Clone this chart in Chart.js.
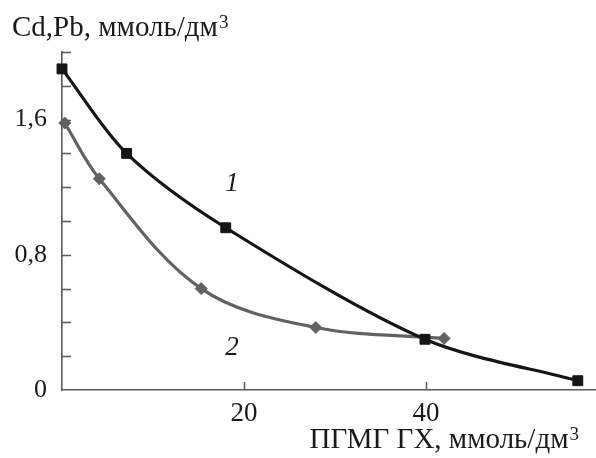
<!DOCTYPE html>
<html>

<head>
    <meta charset="UTF-8">
    <title>Cd, Pb vs PGMG GKh</title>
    <style>
        html, body {
            margin: 0;
            padding: 0;
            background: #ffffff;
        }

        #wrap {
            width: 596px;
            height: 458px;
        }
    </style>
</head>

<body>
    <div id="wrap">
        <canvas id="chart" width="596" height="458"></canvas>
    </div>
    <script src="https://cdn.jsdelivr.net/npm/chart.js"></script>

    <script>
        // curve 1 (black squares)
        const xCurve1 = [0, 7.1, 18, 39.9, 56.7];
        const yCurve1 = [1.9, 1.4, 0.96, 0.3, 0.055];
        // curve 2 (grey diamonds)
        const xCurve2 = [0.3, 4.1, 15.3, 27.9, 42];
        const yCurve2 = [1.58, 1.25, 0.6, 0.37, 0.305];

        const yTickValues = [0, 0.8, 1.6];
        const yTickLabels = ["0", "0,8", "1,6"];
        const xTickValues = [20, 40];
        const xTickLabels = ["20", "40"];

        const yTitle = "Cd,Pb, ммоль/дм";
        const xTitle = "ПГМГ ГХ, ммоль/дм";
        const unitPower = "3";
        const curveNames = ["1", "2"];
        const curveNamePos = [[18.7, 1.22], [18.7, 0.25]];

        const FONT = "'Liberation Serif', 'DejaVu Serif', serif";
        const axisColor = "#5a5a5a";
        const textColor = "#1a1a1a";

        const toPoints = (xs, ys) => xs.map((x, i) => ({ x: x, y: ys[i] }));

        function drawWithPower(ctx, text, x, y, align) {
            ctx.font = `29px ${FONT}`;
            const mainW = ctx.measureText(text).width;
            ctx.font = `19px ${FONT}`;
            const supW = ctx.measureText(unitPower).width;
            const left = align === "right" ? x - mainW - supW - 1 : x;
            ctx.textAlign = "left";
            ctx.textBaseline = "alphabetic";
            ctx.font = `29px ${FONT}`;
            ctx.fillText(text, left, y);
            ctx.font = `19px ${FONT}`;
            ctx.fillText(unitPower, left + mainW + 1, y - 8);
        }

        const decorations = {
            id: "decorations",
            afterDraw(chart) {
                const ctx = chart.ctx;
                const xs = chart.scales.x;
                const ys = chart.scales.y;
                ctx.save();
                // inward tick marks
                ctx.strokeStyle = axisColor;
                ctx.lineWidth = 1.5;
                ctx.beginPath();
                for (let v = 0.2; v <= 2.001; v += 0.2) {
                    const py = Math.round(ys.getPixelForValue(v)) + 0.5;
                    ctx.moveTo(xs.left, py);
                    ctx.lineTo(xs.left + 9, py);
                }
                xTickValues.forEach((v) => {
                    const px = Math.round(xs.getPixelForValue(v)) + 0.5;
                    ctx.moveTo(px, ys.bottom);
                    ctx.lineTo(px, ys.bottom - 8);
                });
                ctx.stroke();

                ctx.fillStyle = textColor;
                // axis titles
                drawWithPower(ctx, yTitle, 12, 36, "left");
                drawWithPower(ctx, xTitle, 579, 448, "right");

                // curve numbers
                ctx.font = `italic 27px ${FONT}`;
                ctx.textAlign = "center";
                ctx.textBaseline = "middle";
                curveNames.forEach((n, i) => {
                    ctx.fillText(n, xs.getPixelForValue(curveNamePos[i][0]), ys.getPixelForValue(curveNamePos[i][1]));
                });
                ctx.restore();
            }
        };

        new Chart(document.getElementById("chart"), {
            type: "line",
            data: {
                datasets: [
                    {
                        label: "1",
                        data: toPoints(xCurve1, yCurve1),
                        borderColor: "#151515",
                        backgroundColor: "#151515",
                        borderWidth: 3.2,
                        pointStyle: "rect",
                        pointRadius: 7,
                        pointBorderWidth: 1,
                        tension: 0.3,
                        clip: false
                    },
                    {
                        label: "2",
                        data: toPoints(xCurve2, yCurve2),
                        borderColor: "#626262",
                        backgroundColor: "#626262",
                        borderWidth: 3.2,
                        pointStyle: "rectRot",
                        pointRadius: 6,
                        pointBorderWidth: 1,
                        tension: 0.35,
                        clip: false
                    }
                ]
            },
            options: {
                responsive: false,
                animation: false,
                layout: {
                    autoPadding: false,
                    padding: { top: 52, right: 0, left: 0, bottom: 0 }
                },
                plugins: {
                    legend: { display: false },
                    tooltip: { enabled: false }
                },
                scales: {
                    x: {
                        type: "linear",
                        min: 0,
                        max: 58.7,
                        afterFit: (scale) => {
                            scale.height = 68;
                            scale.paddingLeft = 0;
                            scale.paddingRight = 0;
                        },
                        afterBuildTicks: (scale) => {
                            scale.ticks = xTickValues.map((v) => ({ value: v }));
                        },
                        grid: { display: true, drawOnChartArea: false, drawTicks: false },
                        border: { display: true, color: axisColor, width: 1.6 },
                        ticks: {
                            padding: 8,
                            color: textColor,
                            font: { family: FONT, size: 27 },
                            callback: (v) => xTickLabels[xTickValues.indexOf(v)]
                        }
                    },
                    y: {
                        type: "linear",
                        min: 0,
                        max: 2,
                        afterFit: (scale) => {
                            scale.width = 62;
                            scale.paddingTop = 0;
                            scale.paddingBottom = 0;
                        },
                        afterBuildTicks: (scale) => {
                            scale.ticks = yTickValues.map((v) => ({ value: v }));
                        },
                        grid: { display: true, drawOnChartArea: false, drawTicks: false },
                        border: { display: true, color: axisColor, width: 1.6 },
                        ticks: {
                            padding: 15,
                            color: textColor,
                            font: { family: FONT, size: 26 },
                            callback: (v) => yTickLabels[yTickValues.indexOf(v)]
                        }
                    }
                }
            },
            plugins: [decorations]
        });
    </script>
</body>

</html>
